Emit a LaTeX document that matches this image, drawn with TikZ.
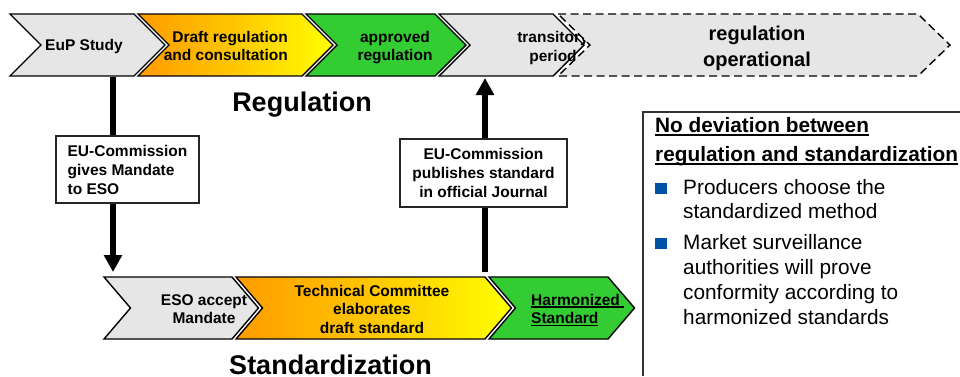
\documentclass[tikz,border=0pt]{standalone}
\usepackage{fontspec}
\setmainfont{Liberation Sans}
\usetikzlibrary{arrows.meta}
\definecolor{chgrey}{RGB}{230,230,230}
\definecolor{chgreen}{RGB}{51,204,51}
\definecolor{chorange}{RGB}{255,155,0}
\definecolor{chmid}{RGB}{255,200,0}
\definecolor{chyellow}{RGB}{255,255,0}
\definecolor{bulblue}{RGB}{0,82,164}
\newcommand\mychev[6]{\path[#1] (#2,#4) -- (#3,#4) -- ({#3+#6},{(#4+#5)/2}) -- (#3,#5) -- (#2,#5) -- ({#2+#6},{(#4+#5)/2}) -- cycle;}
\newcommand\myul[2][3pt]{\setbox0\hbox{#2}\rlap{\rule[-#1]{\wd0}{1.4pt}}\box0}
\newcommand\fchev{\fontsize{15.5}{18.5}\selectfont\bfseries}
\newcommand\fchevbig{\fontsize{20}{26}\selectfont\bfseries}
\newcommand\fboxtxt{\fontsize{15.5}{19}\selectfont\bfseries}
\newcommand\fhead{\fontsize{27}{32}\selectfont\bfseries}
\newcommand\frbold{\fontsize{20.8}{25}\selectfont\bfseries}
\newcommand\frreg{\fontsize{20.8}{25}\selectfont}
\begin{document}
\begin{tikzpicture}[x=1pt,y=-1pt,
  chev/.style={draw=black,line width=1.4pt,line join=miter},
  greychev/.style={chev,fill=chgrey},
  gradchev/.style={chev,left color=chorange,right color=chyellow,middle color=chmid},
  greenchev/.style={chev,fill=chgreen},
  dashchev/.style={chev,fill=chgrey,dash pattern=on 8pt off 4.5pt},
  lbl/.style={inner sep=0pt,font=\fchev,align=center},
  mbox/.style={draw=black!85,line width=1.2pt,fill=white,font=\fboxtxt,inner sep=0pt},
  bigarrow/.style={line width=6pt,-{Triangle[width=17.5pt,length=17pt]}},
  rt/.style={anchor=base west,inner sep=0pt,font=\frreg},
  rtb/.style={rt,font=\frbold}]
\useasboundingbox (0,0) rectangle (960,376);
\fill[white] (0,0) rectangle (960,376);
% top row
\mychev{greychev}{10}{134}{14}{76}{31}
\node[lbl] (t1) at (84,46.5) {EuP Study};
\mychev{gradchev}{138}{302}{14}{76}{31}
\node[lbl,align=right,anchor=east] (t2) at (288,46.1) {Draft regulation\\and consultation};
\mychev{greenchev}{306}{435}{14}{76}{31}
\node[lbl] (t3) at (395,47.7) {approved\\regulation};
\mychev{greychev}{439}{553}{14}{76}{31}
\node[lbl] (t4) at (553,47.9) {transitory\\period};
\mychev{dashchev}{558}{918}{14}{76}{32}
\node[lbl,font=\fchevbig] (t5) at (757,48) {regulation\\operational};
% bottom row
\mychev{greychev}{104}{232}{277}{339}{26.5}
\node[lbl] (s1) at (204,309) {ESO accept\\Mandate};
\mychev{gradchev}{236}{485}{277}{339}{26.5}
\node[lbl] (s2) at (372,309.4) {Technical Committee\\elaborates\\draft standard};
\mychev{greenchev}{489}{608}{277}{339}{26.5}
\node[lbl,align=left,anchor=west] (s3) at (531,310.1) {\myul[2.5pt]{Harmonized\ }\\\myul[2.5pt]{Standard}};
% arrows
\coordinate (c1s) at (113,77);
\coordinate (b1n) at (113,272);
\coordinate (b2n) at (485,272);
\coordinate (c4s) at (485,78);
\draw[bigarrow] (c1s) -- (b1n);
\draw[bigarrow] (b2n) -- (c4s);
\node[mbox,align=left,minimum width=143pt,minimum height=67pt] (m1) at (127.5,169.5) {EU-Commission\\gives Mandate\\to ESO};
\node[mbox,align=center,minimum width=167pt,minimum height=68pt] (m2) at (483.5,173) {EU-Commission\\publishes standard\\in official Journal};
% headings
\node[anchor=base,inner sep=0pt,font=\fhead] (hreg) at (302,111) {Regulation};
\node[anchor=base,inner sep=0pt,font=\fhead] (hstd) at (330.5,374) {Standardization};
% right box
\draw[line width=1.3pt,draw=black!80] (960,112) -- (643,112) -- (643,376);
\node[rtb] (r1) at (655,132) {\myul[3.5pt]{No deviation between}};
\node[rtb] (r2) at (655,161) {\myul[3.5pt]{regulation and standardization}};
\fill[bulblue] (655,183) rectangle (667,194);
\node[rt] (r3) at (683,194) {Producers choose the};
\node[rt] (r4) at (683,218) {standardized method};
\fill[bulblue] (655,238) rectangle (667,249);
\node[rt] (r5) at (683,249) {Market surveillance};
\node[rt] (r6) at (683,274) {authorities will prove};
\node[rt] (r7) at (683,299) {conformity according to};
\node[rt] (r8) at (683,324) {harmonized standards};
\end{tikzpicture}
\end{document}
